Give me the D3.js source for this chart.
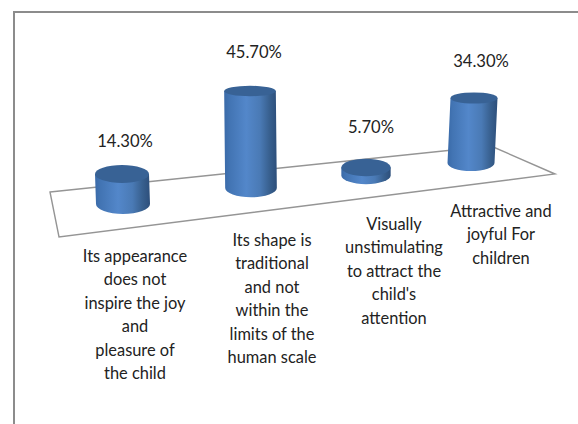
<!DOCTYPE html>
<html><head><meta charset="utf-8">
<script src="https://cdn.jsdelivr.net/npm/d3@7/dist/d3.min.js"></script>
<style>html,body{margin:0;padding:0;background:#fff}svg{display:block}</style>
</head><body><div id="c"></div>
<script>
const categories = [
  ["Its appearance","does not","inspire the joy","and","pleasure of","the child"],
  ["Its shape is","traditional","and not","within the","limits of the","human scale"],
  ["Visually","unstimulating","to attract the","child's","attention"],
  ["Attractive and","joyful For","children"]
];
const values = [14.3, 45.7, 5.7, 34.3];
const W = 578, H = 424;
const svg = d3.select("#c").append("svg").attr("width",W).attr("height",H);
const fmt = v => v.toFixed(2) + "%";
const font = "Lato, Carlito, 'Open Sans', sans-serif";

// frame
svg.append("path").attr("d",`M14,${H}V12H${W}`).attr("fill","none").attr("stroke","#8c8c8c").attr("stroke-width",2);

// floor
svg.append("path").attr("d","M50,192L491,146L555,174L59,237Z").attr("fill","none").attr("stroke","#959595").attr("stroke-width",1.4);

// perspective scales
const idx = values.map((_,i)=>i);
const x = d3.scaleLinear().domain(idx).range([123,251,366,471]);
const base = d3.scaleLinear().domain(idx).range([204,188,175.5,163]);
const lean = d3.scaleLinear().domain(idx).range([-1,-1,0,3]);
const rx = d3.scaleLinear().domain([0,3]).range([27,23.5]);
const ryBase = d3.scaleLinear().domain([0,3]).range([10,8]);
const hScale = d3.scaleLinear().domain([0,5.7,14.3,34.3,45.7]).range([0,8,30,65,97]);
const ryTop = d3.scaleLinear().domain([90,175]).range([5.2,9]);

const defs = svg.append("defs");
const g = defs.append("linearGradient").attr("id","cyl");
[[0,"#3a6aa8"],[.1,"#4274b3"],[.42,"#5387ca"],[.68,"#4a7ab5"],[.86,"#38608f"],[1,"#2d4f7b"]]
  .forEach(s=>g.append("stop").attr("offset",s[0]).attr("stop-color",s[1]));

const bars = svg.selectAll("g.bar").data(values).join("g").attr("class","bar");
bars.each(function(v,i){
  const s = d3.select(this), cx=x(i), by=base(i), r=rx(i), h=hScale(v), tx=cx+lean(i), ty=by-h, q=ryTop(ty), qb=ryBase(i);
  s.append("path").attr("fill","url(#cyl)")
   .attr("d",`M${tx-r},${ty}L${cx-r},${by}A${r},${qb} 0 0 0 ${cx+r},${by}L${tx+r},${ty}Z`);
  s.append("ellipse").attr("cx",tx).attr("cy",ty).attr("rx",r).attr("ry",q).attr("fill","#386295");
});

// value labels
const lx = d3.scaleLinear().domain(idx).range([125,254,371,481]);
const ly = d3.scaleLinear().domain(idx).range([147,58,133,67]);
svg.selectAll("text.v").data(values).join("text").attr("class","v")
  .attr("x",(d,i)=>lx(i)).attr("y",(d,i)=>ly(i)).attr("text-anchor","middle")
  .attr("font-family",font).attr("font-size",16.6).attr("fill","#222").text(fmt);

// category labels
const cx = d3.scaleLinear().domain(idx).range([135,272,394,501]);
const cy = d3.scaleLinear().domain(idx).range([262,246,230,217]);
categories.forEach((lines,i)=>{
  svg.append("g").selectAll("text").data(lines).join("text")
    .attr("x",cx(i)).attr("y",(d,j)=>cy(i)+j*23.4).attr("text-anchor","middle")
    .attr("font-family",font).attr("font-size",16.4).attr("fill","#222").text(d=>d);
});
</script></body></html>
